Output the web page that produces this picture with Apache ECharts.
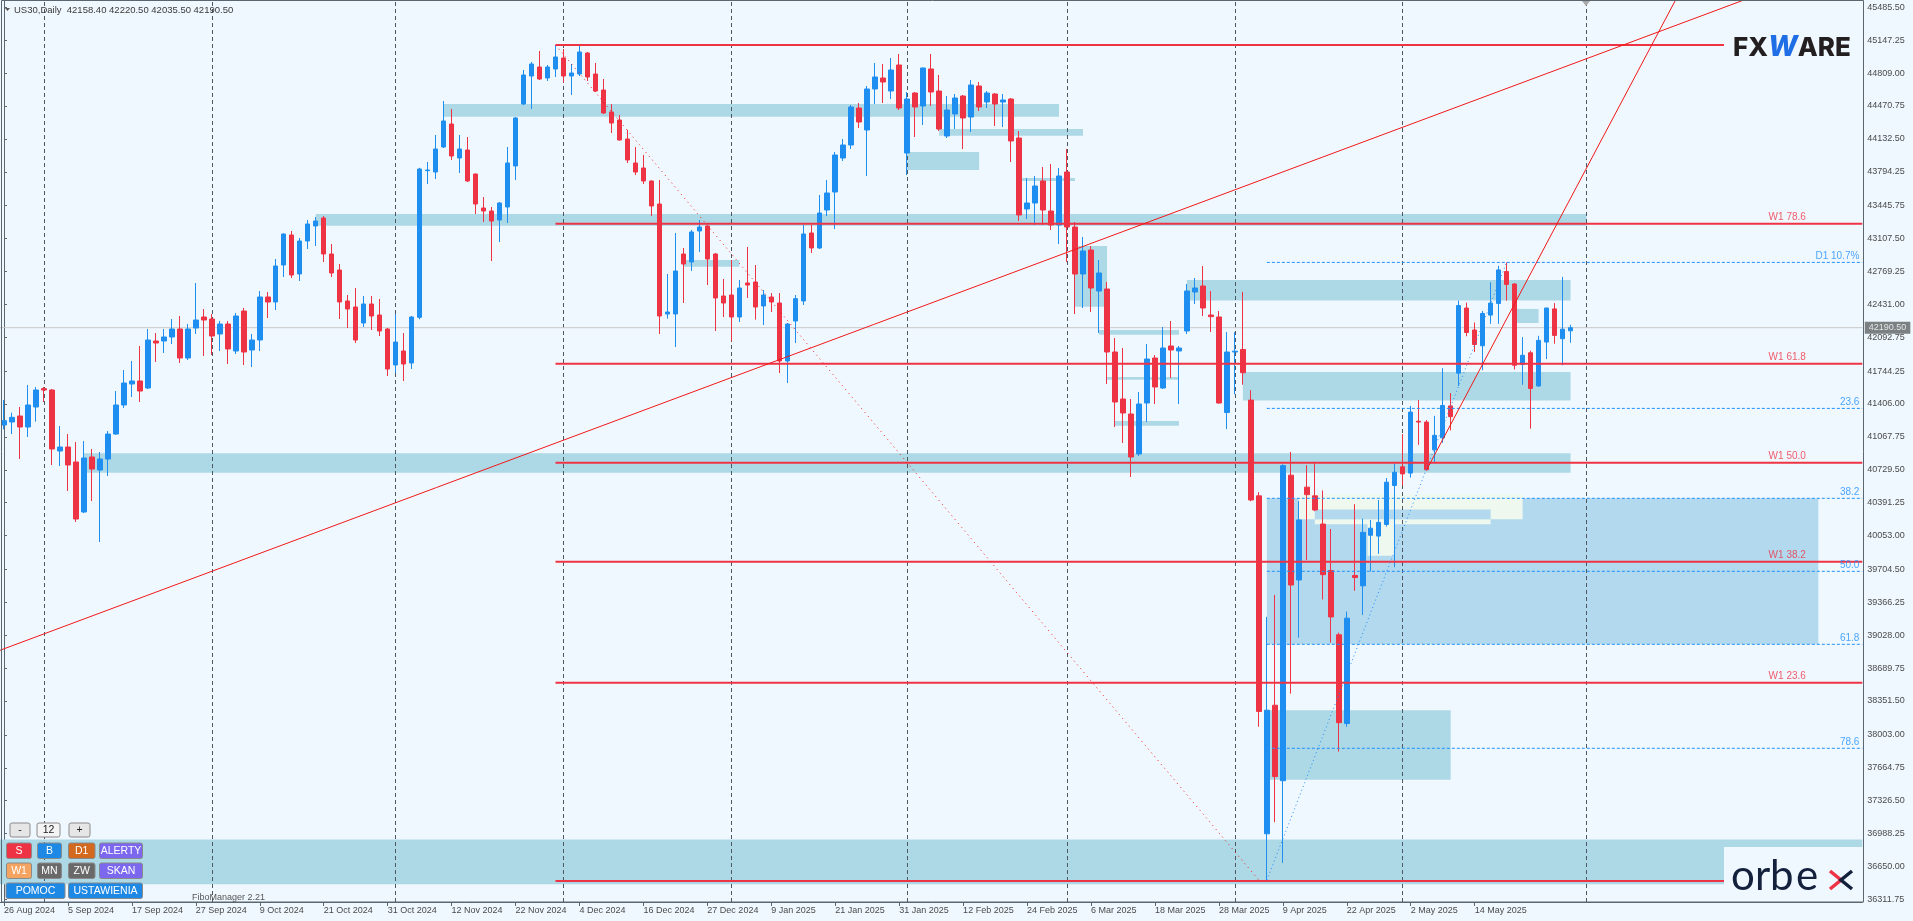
<!DOCTYPE html>
<html><head><meta charset="utf-8">
<script src="https://cdn.jsdelivr.net/npm/echarts@6/dist/echarts.min.js"></script>
<style>html,body{margin:0;padding:0;background:#f0f8ff;overflow:hidden}#c{width:1913px;height:921px}</style>
</head><body><div id="c"></div>
<script>
// ---------- DATA ----------
const dates = [
'26 Aug 2024','27 Aug 2024','28 Aug 2024','29 Aug 2024','30 Aug 2024',
'2 Sep 2024','3 Sep 2024','4 Sep 2024','5 Sep 2024','6 Sep 2024',
'9 Sep 2024','10 Sep 2024','11 Sep 2024','12 Sep 2024','13 Sep 2024',
'16 Sep 2024','17 Sep 2024','18 Sep 2024','19 Sep 2024','20 Sep 2024',
'23 Sep 2024','24 Sep 2024','25 Sep 2024','26 Sep 2024','27 Sep 2024','30 Sep 2024',
'1 Oct 2024','2 Oct 2024','3 Oct 2024','4 Oct 2024',
'7 Oct 2024','8 Oct 2024','9 Oct 2024','10 Oct 2024','11 Oct 2024',
'14 Oct 2024','15 Oct 2024','16 Oct 2024','17 Oct 2024','18 Oct 2024',
'21 Oct 2024','22 Oct 2024','23 Oct 2024','24 Oct 2024','25 Oct 2024',
'28 Oct 2024','29 Oct 2024','30 Oct 2024','31 Oct 2024',
'1 Nov 2024','4 Nov 2024','5 Nov 2024','6 Nov 2024','7 Nov 2024','8 Nov 2024',
'11 Nov 2024','12 Nov 2024','13 Nov 2024','14 Nov 2024','15 Nov 2024',
'18 Nov 2024','19 Nov 2024','20 Nov 2024','21 Nov 2024','22 Nov 2024',
'25 Nov 2024','26 Nov 2024','27 Nov 2024','28 Nov 2024','29 Nov 2024',
'2 Dec 2024','3 Dec 2024','4 Dec 2024','5 Dec 2024','6 Dec 2024',
'9 Dec 2024','10 Dec 2024','11 Dec 2024','12 Dec 2024','13 Dec 2024',
'16 Dec 2024','17 Dec 2024','18 Dec 2024','19 Dec 2024','20 Dec 2024',
'23 Dec 2024','24 Dec 2024','26 Dec 2024','27 Dec 2024','30 Dec 2024','31 Dec 2024',
'2 Jan 2025','3 Jan 2025','6 Jan 2025','7 Jan 2025','8 Jan 2025','9 Jan 2025','10 Jan 2025',
'13 Jan 2025','14 Jan 2025','15 Jan 2025','16 Jan 2025','17 Jan 2025',
'20 Jan 2025','21 Jan 2025','22 Jan 2025','23 Jan 2025','24 Jan 2025',
'27 Jan 2025','28 Jan 2025','29 Jan 2025','30 Jan 2025','31 Jan 2025',
'3 Feb 2025','4 Feb 2025','5 Feb 2025','6 Feb 2025','7 Feb 2025',
'10 Feb 2025','11 Feb 2025','12 Feb 2025','13 Feb 2025','14 Feb 2025',
'17 Feb 2025','18 Feb 2025','19 Feb 2025','20 Feb 2025','21 Feb 2025',
'24 Feb 2025','25 Feb 2025','26 Feb 2025','27 Feb 2025','28 Feb 2025',
'3 Mar 2025','4 Mar 2025','5 Mar 2025','6 Mar 2025','7 Mar 2025',
'10 Mar 2025','11 Mar 2025','12 Mar 2025','13 Mar 2025','14 Mar 2025',
'17 Mar 2025','18 Mar 2025','19 Mar 2025','20 Mar 2025','21 Mar 2025',
'24 Mar 2025','25 Mar 2025','26 Mar 2025','27 Mar 2025','28 Mar 2025','31 Mar 2025',
'1 Apr 2025','2 Apr 2025','3 Apr 2025','4 Apr 2025',
'7 Apr 2025','8 Apr 2025','9 Apr 2025','10 Apr 2025','11 Apr 2025',
'14 Apr 2025','15 Apr 2025','16 Apr 2025','17 Apr 2025',
'21 Apr 2025','22 Apr 2025','23 Apr 2025','24 Apr 2025','25 Apr 2025',
'28 Apr 2025','29 Apr 2025','30 Apr 2025',
'1 May 2025','2 May 2025','5 May 2025','6 May 2025','7 May 2025','8 May 2025','9 May 2025',
'12 May 2025','13 May 2025','14 May 2025','15 May 2025','16 May 2025',
'19 May 2025','20 May 2025','21 May 2025','22 May 2025','23 May 2025',
'26 May 2025','27 May 2025','28 May 2025','29 May 2025','30 May 2025'
];
const opens = [
41189.7,41220.6,41282.3,41169.2,41374.8, 41563.4,41549.7,40922.4,40963.5,40809.2,
40295.0,40860.6,40726.9,40840.1,41097.0, 41395.4,41611.4,41642.3,41570.3,42053.6,
42053.6,42094.7,42177.0,41878.7,42187.3, 42300.4,42279.8,42125.6,42228.5,41950.8,
42362.2,41961.1,42063.9,42506.2,42454.7, 42835.2,43143.8,42742.7,43082.0,43236.3,
43318.6,42948.4,42783.8,42465.0,42403.3, 42238.7,42434.1,42321.0,42177.0,41806.8,
41950.8,41827.4,42297.0,43805.4,43791.7, 44048.9,44285.5,43935.8,44018.0,43771.1,
43421.5,43390.6,43298.0,43431.7,43853.6, 44491.0,44779.0,44871.5,44758.4,44850.9,
44964.1,44778.9,44799.5,45015.5,44799.5, 44635.0,44408.8,44326.6,44131.2,43884.2,
43832.8,43699.2,43462.6,42331.3,42331.3, 42948.4,42866.1,43184.9,43236.3,42948.4,
42516.4,42526.7,42300.5,42650.2,42660.4, 42413.6,42506.2,42444.4,41847.9,42259.3,
42465.0,43164.3,43010.1,43400.9,43586.0, 43935.6,44069.3,44449.9,44223.6,44645.3,
44758.4,44624.7,44892.1,43987.0,44604.1, 44470.4,44851.0,44624.7,44162.0,44388.2,
44573.3,44357.4,44676.2,44511.6,44593.9, 44511.6,44542.4,44141.4,43411.2,43472.9,
43699.2,43390.6,43246.6,43791.7,43226.0, 42742.7,42989.5,42567.9,42588.4,41940.5,
41457.1,41302.8,40891.5,41416.0,41878.8, 41570.3,42002.2,41950.8,42156.5,42557.6,
42619.3,42321.0,42300.5,41318.1,41940.6, 41966.2,41446.0,40461.1,36986.0,38307.8,
37531.8,40674.2,39595.5,40550.6,40461.1, 40171.1,39693.5,39032.7,38120.3,39642.4,
39535.8,40056.0,40047.5,40166.9,40567.7, 40759.5,40695.5,41228.5,41220.0,40934.3,
41058.0,41386.3,41723.1,42392.6,42166.6, 42004.6,42320.1,42440.0,42767.8,42639.9,
41812.7,41932.1,41591.0,42042.9,42384.0, 42077.1,42158.4
];
const highs = [
41446.9,41316.6,41374.8,41601.1,41580.5, 41580.5,41560.0,41179.5,41097.0,41014.7,
41024.9,40942.9,40912.1,41127.9,41539.4, 41755.4,41848.0,42002.2,42177.0,42135.9,
42177.0,42279.8,42310.7,42228.5,42650.1, 42382.7,42331.3,42259.3,42259.3,42341.6,
42393.0,42125.6,42567.8,42557.6,42897.0, 43160.0,43184.9,43112.9,43298.0,43328.9,
43339.2,43051.2,42845.5,42526.7,42598.7, 42516.4,42516.4,42485.6,42187.3,42331.3,
42135.9,42310.7,43835.0,43894.8,44172.3, 44522.0,44439.8,44172.3,44151.7,43775.0,
43534.6,43431.7,43483.1,44049.0,44357.5, 44840.8,44922.9,45036.1,44892.1,45097.8,
45056.7,44902.4,45097.8,45025.8,44912.7, 44748.1,44491.0,44377.9,44223.6,44048.9,
43966.7,43705.0,43709.4,42743.3,43164.4, 43010.1,43195.2,43298.1,43240.0,42958.7,
42691.3,42886.7,42681.0,43020.4,42835.2, 42578.2,42547.3,42547.3,42238.7,42526.7,
43246.6,43246.6,43555.2,43709.4,43997.4, 44131.1,44480.7,44501.3,44676.2,44912.7,
44902.4,44964.1,45005.2,44614.4,44614.4, 44865.0,45005.2,44789.3,44573.3,44593.9,
44583.6,44737.9,44717.4,44624.7,44604.1, 44593.9,44552.7,44213.3,43729.9,43750.5,
43843.2,43874.1,43832.8,44028.2,43277.4, 43123.2,43030.7,42886.7,42660.4,42084.5,
41981.6,41457.1,41529.1,42022.8,41909.6, 42197.7,42259.3,42002.2,42639.9,42701.5,
42824.9,42567.9,42362.2,42145.3,42145.3, 42558.9,41548.3,40499.4,39216.0,39442.2,
40785.1,40913.0,40405.6,40776.6,40797.9, 40516.5,40119.9,39054.0,39271.5,40375.8,
40226.5,40213.7,40418.4,40644.4,40793.6, 41096.3,41386.3,41445.9,41241.3,41283.9,
41774.3,41518.4,42469.3,42448.0,42243.3, 42362.7,42657.0,42827.5,42861.6,42648.4,
42094.1,41953.4,42106.9,42396.8,42443.7, 42712.4,42220.5
];
const lows = [
41145.2,41097.0,40840.1,41066.3,41224.0, 41426.3,40778.4,40768.1,40511.0,40192.1,
40284.7,40408.1,39986.4,40665.2,41086.9, 41364.6,41477.7,41426.3,41560.0,41837.7,
41930.2,42022.7,41827.4,41858.2,42125.6, 41899.4,41909.6,41950.8,41817.1,41919.9,
41806.8,41786.2,41950.8,42290.1,42372.4, 42711.8,42701.5,42670.7,42999.8,43030.6,
42866.1,42711.8,42279.8,42187.3,42033.0, 42197.6,42166.8,42105.0,41693.6,41724.5,
41642.3,41765.6,42276.4,43668.3,43719.7, 44038.6,43915.3,43781.4,43689.0,43359.7,
43277.5,42876.3,43071.8,43267.3,43709.4, 44480.0,44439.6,44737.9,44727.5,44768.7,
44707.0,44583.6,44778.9,44727.5,44614.4, 44388.2,44192.8,44115.0,43884.2,43760.9,
43668.3,43339.2,42125.7,42283.3,41991.9, 42444.4,42773.6,42968.9,42629.5,42156.5,
42300.5,42053.6,42249.1,42495.9,42273.0, 42218.2,42351.9,41724.5,41621.6,42033.0,
42423.9,42958.7,43000.0,43339.2,43205.5, 43904.8,44028.2,44244.2,43750.5,44491.0,
44501.3,44542.4,44429.3,43760.8,44151.6, 44275.0,44470.4,44213.3,44141.4,44233.9,
44028.2,44203.0,44419.0,44449.9,44264.7, 44254.5,43894.5,43287.7,43308.3,43246.6,
43246.6,43195.1,43051.2,42866.1,42331.3, 42392.9,42351.9,42135.9,41611.3,41169.2,
41004.7,40654.9,40870.9,41220.6,41405.7, 41560.0,41673.1,41405.7,42125.7,42434.1,
42310.7,42146.2,41410.0,41147.6,41505.7, 41603.8,40405.6,38086.2,36508.4,37105.4,
36687.5,38427.2,39002.9,39800.2,40303.0, 39395.1,38951.6,37830.3,38086.2,39484.7,
39237.4,39685.0,39864.2,40145.6,39727.7, 40567.7,40648.7,40985.5,40720.0,40806.4,
41006.8,41134.8,41591.0,42102.7,41940.6, 41753.0,42230.5,42230.5,42469.3,41761.5,
41603.8,41151.8,41582.5,41868.1,42025.9, 41804.2,42035.5
];
const closes = [
41234.3,41268.6,41169.2,41395.4,41549.7, 41549.7,40942.9,40963.5,40778.4,40223.0,
40850.4,40737.2,40840.1,41097.0,41395.4, 41621.7,41642.3,41539.4,42063.9,42033.0,
42094.7,42177.0,41878.7,42177.0,42269.6, 42269.6,42105.0,42228.5,41971.4,42310.7,
41940.5,42063.9,42506.2,42454.7,42825.0, 43154.1,42732.4,43082.0,43256.9,43287.7,
42948.4,42753.0,42454.7,42382.7,42063.9, 42434.1,42310.7,42156.5,41765.6,42043.3,
41817.1,42300.4,43822.5,43812.2,44028.3, 44316.3,43956.4,44028.3,43699.2,43462.6,
43390.6,43287.7,43472.9,43884.5,44347.2, 44789.3,44902.4,44748.1,44871.5,44974.4,
44778.9,44809.8,45025.8,44768.7,44624.7, 44398.5,44295.7,44120.9,43915.2,43791.7,
43699.2,43442.0,42310.7,42351.9,42773.6, 42845.5,43174.6,43226.1,42896.9,42495.9,
42444.4,42300.5,42598.7,42629.6,42403.3, 42526.7,42454.7,41847.9,42228.5,42489.0,
43154.1,43010.1,43370.1,43575.7,43966.5, 44069.3,44460.1,44305.9,44645.3,44768.7,
44717.2,44840.8,44449.9,44542.4,44460.1, 44861.3,44614.4,44233.9,44429.3,44552.7,
44347.1,44686.5,44460.1,44604.1,44491.0, 44532.2,44110.6,43349.4,43472.9,43647.7,
43400.9,43246.6,43750.5,43226.0,42742.7, 42979.3,42598.7,42753.0,41940.5,41426.3,
41313.1,40860.6,41405.7,41868.5,41580.5, 41981.6,41961.0,41981.6,42567.9,42598.7,
42393.0,42304.0,41416.0,41940.6,41949.1, 41727.4,40418.4,38243.9,38256.6,37574.4,
40772.3,39544.3,40213.7,40473.9,40316.1, 39650.9,39216.0,38128.8,39203.3,39621.1,
40085.8,40128.5,40188.2,40601.8,40704.1, 40687.0,41322.3,41220.0,40729.7,41083.5,
41390.5,41275.4,42418.2,42141.0,42017.4, 42337.1,42443.7,42784.8,42635.6,41804.2,
41906.5,41565.4,42059.9,42392.6,42111.2, 42175.1,42190.5
];
const yTickValues = [45485.50,45147.25,44809.00,44470.75,44132.50,43794.25,43445.75,43107.50,
 42769.25,42431.00,42092.75,41744.25,41406.00,41067.75,40729.50,40391.25,40053.00,39704.50,
 39366.25,39028.00,38689.75,38351.50,38003.00,37664.75,37326.50,36988.25,36650.00,36311.75];
const monthSeparators = [5,26,49,70,91,113,133,154,175,198];
const lastPrice = 42190.5;
const headerText = 'US30,Daily  42158.40 42220.50 42035.50 42190.50';
// W1 fibo (red) levels
const w1Names = ['W1 78.6','W1 61.8','W1 50.0','W1 38.2','W1 23.6'];
const w1Prices = [43260.0,41820.3,40802.0,39782.9,38538.5];
const w1Top = 45097.8, w1Bottom = 36500.2, w1StartBar = 69;
// D1 fibo (blue dashed) levels
const d1Names = ['D1 10.7%','23.6','38.2','50.0','61.8','78.6'];
const d1Prices = [42862.0,41360.5,40435.9,39685.1,38934.4,37865.0];
const d1StartBar = 158;
// trend lines [bar, price] pairs
const trendLong = [[-0.5,38872.8],[220,45631.5]];
const trendSteep = [[178,40729.7],[212,46004.8]];
const dottedDown = [[69,45097.8],[157,36508.0]];
const dottedUp = [[158,36508.4],[188,42861.6]];
// zones [startBar, endBar, top price, bottom price]
const zones = [
 [55,132,44491.0,44360.7],[117,135,44233.9,44165.3],[113,122,43997.4,43812.2],
 [127,134,43729.9,43699.2],[39,198,43359.7,43239.8],[85,92,42886.7,42818.2],
 [134,138,43030.6,42406.9],[148,196,42681.9,42469.2],[189.3,192,42383.7,42238.6],
 [137,147,42166.6,42118.6],[155,196,41735.8,41441.8],[138,147,41683.4,41656.0],
 [139,147,41230.9,41182.9],[10,196,40900.0,40700.0],[158,181,38256.6,37540.8],
 [-0.5,232.5,36925.8,36466.1]
];
const fibZone = [158,227,40435.9,38934.4];
const paleZones = [[162,190,40476.6,40221.0],[164,186,40221.0,40170.0],[170.6,173.9,40221.0,39846.0]];
const innerZone = [164,186,40322.0,40221.0];

// ---------- CHART ----------
const NSLOT = 233;
const cats = dates.slice();
for (let i = dates.length; i < NSLOT; i++) cats.push('~' + i);
const candles = dates.map((d, i) => [opens[i], closes[i], lows[i], highs[i]]);
const XMAX = NSLOT - 0.5;
const RED = '#ee3344', BLUE = '#1e8ff0', ZONE = '#add8e6', FONT = 'Liberation Sans';

function seg(pts, style, z) {
  return {type: 'line', xAxisIndex: 1, yAxisIndex: 0, data: pts, symbol: 'none', showSymbol: false,
    silent: true, clip: true, z: z, lineStyle: style, animation: false};
}
function area(list, color, z) {
  return {type: 'line', xAxisIndex: 1, yAxisIndex: 0, data: [], silent: true,
    markArea: {silent: true, z: z, itemStyle: {color: color, borderWidth: 0},
      data: list.map(r => [{coord: [r[0], r[2]]}, {coord: [r[1], r[3]]}])}};
}

const series = [];
series.push(area(zones, ZONE, 1));
series.push(area([fibZone], '#b3d9ee', 1.1));
series.push(area(paleZones, '#eef8ef', 1.2));
series.push(area([innerZone], '#b3d9ee', 1.3));
series.push({type: 'line', xAxisIndex: 1, yAxisIndex: 0, data: [], silent: true,
  markLine: {silent: true, z: 1.5, symbol: ['none', 'none'], animation: false, label: {show: false},
    lineStyle: {color: '#4d5862', width: 1, type: [4, 3]},
    data: monthSeparators.map(b => ({xAxis: b}))}});
series.push(seg([[-0.5, lastPrice], [XMAX, lastPrice]], {color: '#c8c8c8', width: 1}, 2));
series.push({type: 'candlestick', xAxisIndex: 0, yAxisIndex: 0, data: candles, barWidth: 5, z: 3,
  silent: true, animation: false,
  itemStyle: {color: BLUE, color0: RED, borderColor: BLUE, borderColor0: RED, borderWidth: 1}});
// red W1 lines
series.push(seg([[w1StartBar, w1Top], [XMAX, w1Top]], {color: RED, width: 2}, 4));
series.push(seg([[w1StartBar, w1Bottom], [XMAX, w1Bottom]], {color: RED, width: 2}, 4));
w1Prices.forEach(p => series.push(seg([[w1StartBar, p], [XMAX, p]], {color: RED, width: 2}, 4)));
// blue D1 dashed lines
d1Prices.forEach(p => series.push(seg([[d1StartBar, p], [XMAX, p]], {color: '#1e90ff', width: 1, type: [3, 2]}, 4)));
// trend lines
series.push(seg(trendLong, {color: '#f01818', width: 1}, 4));
series.push(seg(trendSteep, {color: '#f01818', width: 1}, 4));
series.push(seg(dottedDown, {color: '#f01818', width: 1, type: [1, 4]}, 4));
series.push(seg(dottedUp, {color: '#1e90ff', width: 1, type: [1, 3]}, 4));
// labels
function labels(names, prices, bar, color) {
  return {type: 'scatter', xAxisIndex: 1, yAxisIndex: 0, symbol: 'circle', symbolSize: 1, silent: true, z: 6,
    itemStyle: {color: 'transparent'}, animation: false,
    data: names.map((n, i) => ({name: n, value: [bar, prices[i]]})),
    label: {show: true, formatter: '{b}', position: [0, -1], align: 'right', verticalAlign: 'bottom',
      color: color, fontSize: 10, fontFamily: FONT}};
}
series.push(labels(w1Names, w1Prices, 225.5, RED));
series.push(labels(d1Names, d1Prices, 232.2, '#1e90ff'));
// current price box
series.push({type: 'scatter', xAxisIndex: 1, yAxisIndex: 0, symbolSize: 1, silent: true, z: 8, clip: false,
  itemStyle: {color: 'transparent'}, animation: false,
  data: [{value: [XMAX, lastPrice]}],
  label: {show: true, position: 'right', distance: 2, formatter: () => lastPrice.toFixed(2),
    backgroundColor: '#5e6264', color: '#ffffff', padding: [2, 4, 1, 4], fontSize: 9, fontFamily: FONT}});

// ---------- DECORATION ----------
function button(x, y, w, h, text, fill, txtColor) {
  return [
    {type: 'rect', z: 50, silent: true, shape: {x: x, y: y, width: w, height: h, r: 2}, style: {fill: fill, stroke: '#8a8a8a', lineWidth: 1}},
    {type: 'text', z: 51, silent: true, style: {x: x + w / 2, y: y + h / 2 + 0.5, text: text, fill: txtColor || '#ffffff',
      font: '10.5px "' + FONT + '"', align: 'center', verticalAlign: 'middle', textAlign: 'center', textVerticalAlign: 'middle'}}
  ];
}
function letter(x, ch) {
  return {type: 'text', z: 41, silent: true, style: {x: x, y: 897, text: ch, fill: '#14213d',
    font: 'normal 42px Lato', fontSize: 42, fontFamily: 'Lato', fontWeight: 'normal',
    verticalAlign: 'bottom', textVerticalAlign: 'bottom'}};
}
let graphics = [
  {type: 'rect', z: 60, silent: true, shape: {x: 1.5, y: 0.5, width: 1862, height: 901.5},
    style: {fill: 'none', stroke: '#5a6670', lineWidth: 1}},
  {type: 'polygon', z: 60, silent: true, shape: {points: [[5, 8], [10, 8], [7.5, 11]]}, style: {fill: '#555'}},
  {type: 'text', z: 60, silent: true, style: {x: 14, y: 10, text: headerText, fill: '#3a3a3a', font: '9.5px "' + FONT + '"',
    verticalAlign: 'middle', textVerticalAlign: 'middle'}},
  {type: 'polygon', z: 60, silent: true, shape: {points: [[1582, 1], [1590, 1], [1586, 6]]}, style: {fill: '#a8a8a8'}},
  // FXWARE logo
  {type: 'rect', z: 40, silent: true, shape: {x: 1724, y: 24, width: 140, height: 46}, style: {fill: '#f0f8ff'}},
  {type: 'text', z: 41, silent: true, style: {x: 1733, y: 48, verticalAlign: 'middle', textVerticalAlign: 'middle',
    text: '{a|FX}{b|W}{a|ARE}',
    rich: {a: {font: '800 26px Inter', fill: '#231f20', fontSize: 26, fontWeight: 800, fontFamily: 'Inter', color: '#231f20'},
           b: {font: 'italic 800 28px Inter', fill: '#1f6ee6', fontSize: 28, fontWeight: 800, fontFamily: 'Inter', color: '#1f6ee6', fontStyle: 'italic'}}}},
  // orbex logo
  {type: 'rect', z: 40, silent: true, shape: {x: 1724, y: 847, width: 140, height: 55}, style: {fill: '#f0f8ff'}},
  letter(1731, 'o'), letter(1755, 'r'), letter(1770, 'b'), letter(1796, 'e'),
  {type: 'polyline', z: 41, silent: true, shape: {points: [[1830, 871], [1841, 880], [1830, 889]]}, style: {stroke: '#ee3344', lineWidth: 3.5, fill: 'none'}},
  {type: 'polyline', z: 41, silent: true, shape: {points: [[1852, 871], [1841, 880], [1852, 889]]}, style: {stroke: '#14213d', lineWidth: 3.5, fill: 'none'}},
  // FiboManager text
  {type: 'text', z: 60, silent: true, style: {x: 192, y: 898, text: 'FiboManager 2.21', fill: '#555555', font: '9px "' + FONT + '"',
    verticalAlign: 'middle', textVerticalAlign: 'middle'}}
];
graphics = graphics.concat(
  button(10, 823, 20, 14, '-', '#e6e6e6', '#222'),
  button(37, 823, 23, 14, '12', '#f4f4f4', '#222'),
  button(69, 823, 21, 14, '+', '#e6e6e6', '#222'),
  button(6.5, 843, 25, 15.5, 'S', '#ee3344'),
  button(37.5, 843, 24, 15.5, 'B', '#1e88e5'),
  button(68.5, 843, 26.5, 15.5, 'D1', '#d2691e'),
  button(99.5, 843, 43, 15.5, 'ALERTY', '#7b68ee'),
  button(6.5, 863, 25, 15.5, 'W1', '#f4a460'),
  button(37.5, 863, 24, 15.5, 'MN', '#696969'),
  button(68.5, 863, 26.5, 15.5, 'ZW', '#696969'),
  button(99.5, 863, 43, 15.5, 'SKAN', '#7b68ee'),
  button(6, 883, 59, 15.5, 'POMOC', '#1e88e5'),
  button(68.5, 883, 74, 15.5, 'USTAWIENIA', '#1e88e5')
);

const chart = echarts.init(document.getElementById('c'), null, {renderer: 'canvas', width: 1913, height: 921});
chart.setOption({
  backgroundColor: '#f0f8ff',
  animation: false,
  grid: {left: -1.7, right: 50.7, top: 0, bottom: 19, containLabel: false},
  xAxis: [
    {type: 'category', data: cats, boundaryGap: true, position: 'bottom',
      axisLine: {show: true, lineStyle: {color: '#5a6670'}},
      axisTick: {show: true, alignWithLabel: true, length: 4, lineStyle: {color: '#5a6670'},
        interval: (i) => i % 8 === 0 && i < dates.length},
      axisLabel: {show: true, align: 'left', margin: 4, color: '#4a4a4a', fontSize: 9, fontFamily: FONT,
        interval: (i) => i % 8 === 0 && i < dates.length, showMinLabel: true, showMaxLabel: false},
      splitLine: {show: false}},
    {type: 'value', min: -0.5, max: XMAX, show: false, position: 'top', splitLine: {show: false}}
  ],
  yAxis: [{type: 'value', position: 'right', min: 36284.2, max: 45560.6, scale: true,
    splitLine: {show: false},
    axisLine: {show: true, lineStyle: {color: '#5a6670'}},
    axisTick: {show: true, length: 3, customValues: yTickValues, lineStyle: {color: '#5a6670'}},
    axisLabel: {show: true, customValues: yTickValues, formatter: (v) => Number(v).toFixed(2),
      color: '#4a4a4a', fontSize: 9, fontFamily: FONT, margin: 5}}],
  series: series,
  graphic: {elements: graphics}
});
</script>
</body></html>
